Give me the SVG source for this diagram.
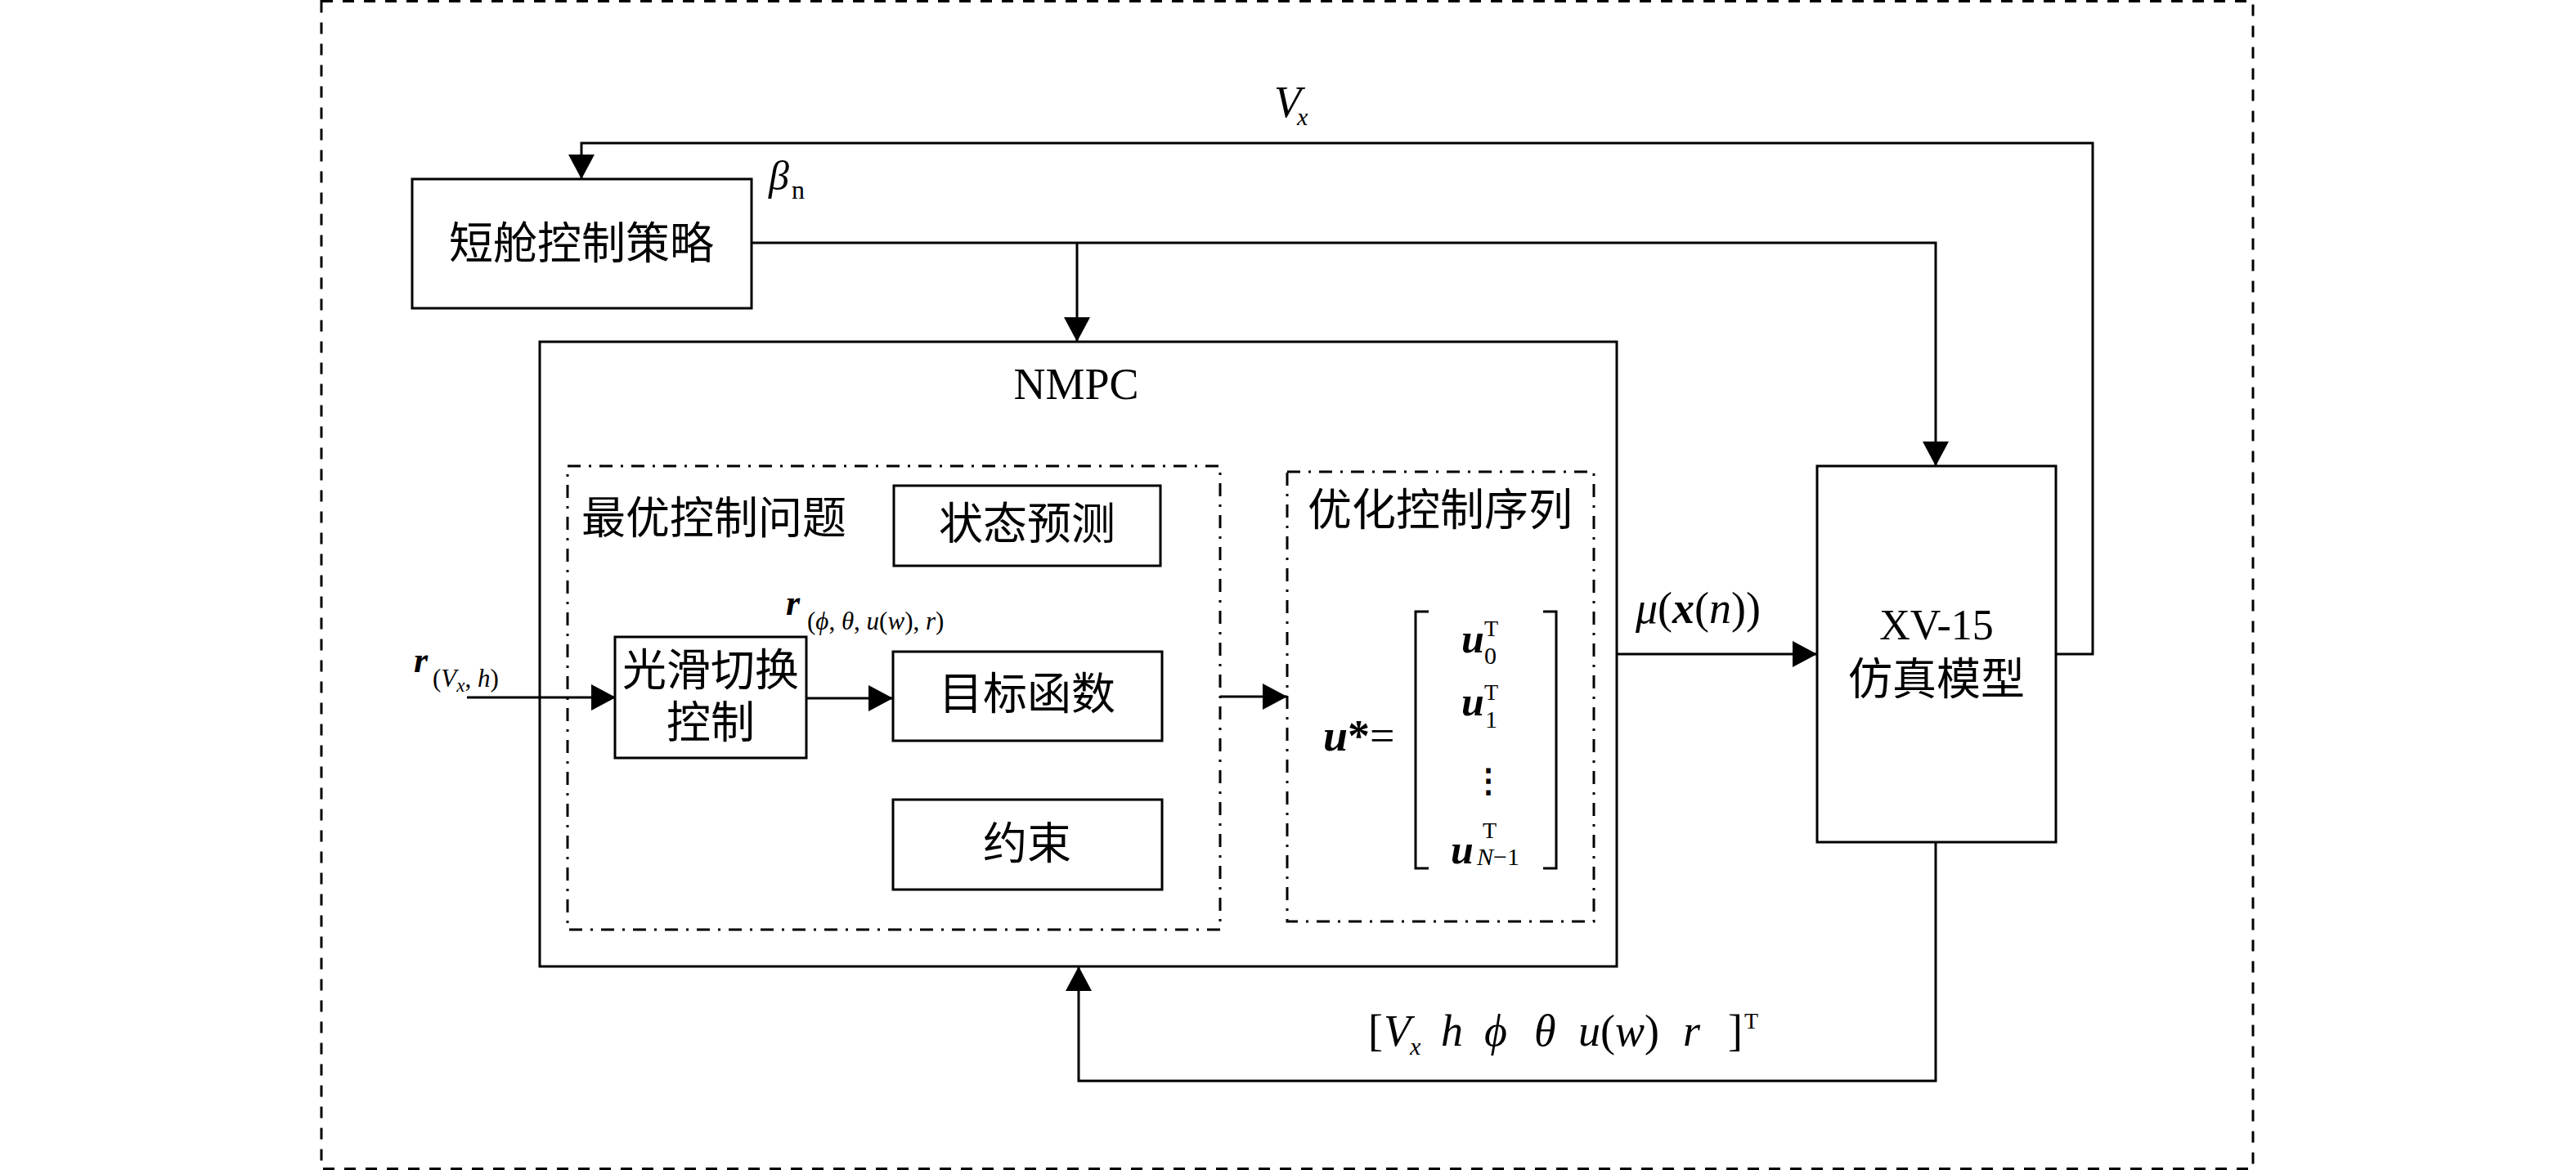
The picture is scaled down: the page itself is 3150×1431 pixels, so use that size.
<svg xmlns="http://www.w3.org/2000/svg" width="3150" height="1431" viewBox="0 0 3150 1431">
<defs>
<style>
.box{fill:none;stroke:#000;stroke-width:3}
.dd{fill:none;stroke:#000;stroke-width:3;stroke-dasharray:16 10 3 10}
.outer{fill:none;stroke:#000;stroke-width:3;stroke-dasharray:14 12}
.wire{fill:none;stroke:#000;stroke-width:3}
.cjk{font-family:"Liberation Serif","Noto Sans CJK SC",sans-serif;font-size:54px;fill:#000}
.m{font-family:"Liberation Serif","DejaVu Serif",serif;fill:#000}
.i{font-style:italic}
.bi{font-style:italic;font-weight:bold}
.mid{text-anchor:middle}
</style>
<marker id="ah" markerUnits="userSpaceOnUse" markerWidth="30" markerHeight="32" refX="30" refY="16" orient="auto"><path d="M0,0 L30,16 L0,32 Z" fill="#000"/></marker>
</defs>
<rect x="0" y="0" width="3150" height="1431" fill="#fff"/>

<g id="outer-frame"><rect class="outer" x="393" y="1.5" width="2362" height="1428"/></g>

<g id="nacelle">
<rect class="box" x="504" y="219" width="415" height="158"/>
<text class="cjk mid" x="711" y="317">短舱控制策略</text>
</g>

<g id="nmpc">
<rect class="box" x="660" y="418" width="1317" height="764"/>
<text class="m mid" x="1316" y="488" font-size="54">NMPC</text>
</g>

<g id="ocp">
<rect class="dd" x="694" y="570" width="798" height="567"/>
<text class="cjk" x="711" y="653">最优控制问题</text>
</g>

<g id="state-pred">
<rect class="box" x="1093" y="594" width="326" height="98"/>
<text class="cjk mid" x="1256" y="660">状态预测</text>
</g>

<g id="smooth-switch">
<rect class="box" x="752" y="779" width="234" height="148"/>
<text class="cjk mid" x="869" y="839">光滑切换</text>
<text class="cjk mid" x="869" y="903">控制</text>
</g>

<g id="objective">
<rect class="box" x="1092" y="797" width="329" height="109"/>
<text class="cjk mid" x="1256" y="868">目标函数</text>
</g>

<g id="constraint">
<rect class="box" x="1092" y="978" width="329" height="110"/>
<text class="cjk mid" x="1256" y="1051">约束</text>
</g>

<g id="opt-seq">
<rect class="dd" x="1574" y="577" width="375" height="550"/>
<text class="cjk mid" x="1761" y="643">优化控制序列</text>
<text class="m" y="918" font-size="54"><tspan class="bi" x="1618">u</tspan><tspan font-weight="bold">*</tspan><tspan>=</tspan></text>
<path class="box" d="M1747,748 H1731 V1062 H1747 M1887,748 H1903 V1062 H1887" stroke-width="4"/>
<text class="m bi" x="1787" y="798" font-size="50">u</text>
<text class="m" x="1815" y="778" font-size="28">T</text>
<text class="m" x="1815" y="812" font-size="30">0</text>
<text class="m bi" x="1787" y="875" font-size="50">u</text>
<text class="m" x="1815" y="856" font-size="28">T</text>
<text class="m" x="1816" y="890" font-size="30">1</text>
<text class="m mid" x="1820" y="968" font-size="40" font-weight="bold">⋮</text>
<text class="m bi" x="1774" y="1056" font-size="50">u</text>
<text class="m" x="1813" y="1025" font-size="28">T</text>
<text class="m" x="1806" y="1058" font-size="30"><tspan class="i">N</tspan>−1</text>
</g>

<g id="xv15">
<rect class="box" x="2222" y="570" width="292" height="460"/>
<text class="m mid" x="2368" y="782" font-size="52">XV-15</text>
<text class="cjk mid" x="2368" y="850">仿真模型</text>
</g>

<g id="connectors">
<path class="wire" d="M571,853 H753" marker-end="url(#ah)"/>
<path class="wire" d="M986,854 H1092" marker-end="url(#ah)"/>
<path class="wire" d="M1492,852 H1574" marker-end="url(#ah)"/>
<path class="wire" d="M1977,800 H2222" marker-end="url(#ah)"/>
<path class="wire" d="M2514,800 H2559 V175 H711 V219" marker-end="url(#ah)"/>
<path class="wire" d="M919,297 H2367 V570" marker-end="url(#ah)"/>
<path class="wire" d="M1317,297 V418" marker-end="url(#ah)"/>
<path class="wire" d="M2367,1030 V1322 H1319 V1182" marker-end="url(#ah)"/>
</g>

<g id="labels">
<text class="m" y="143" font-size="54"><tspan class="i" x="1558">V</tspan><tspan class="i" x="1586" y="153" font-size="30">x</tspan></text>
<text class="m" y="232" font-size="50"><tspan class="i" x="940">β</tspan><tspan x="968" y="243" font-size="32">n</tspan></text>
<text class="m" y="822" font-size="44"><tspan class="bi" x="506">r</tspan><tspan x="529" y="840" font-size="31">(</tspan><tspan class="i" font-size="31">V</tspan><tspan class="i" y="846" font-size="23">x</tspan><tspan y="840" font-size="31">, </tspan><tspan class="i" font-size="31">h</tspan><tspan font-size="31">)</tspan></text>
<text class="m" y="752" font-size="44"><tspan class="bi" x="961">r</tspan><tspan x="987" y="770" font-size="31">(</tspan><tspan class="i" font-size="31">ϕ</tspan><tspan font-size="31">, </tspan><tspan class="i" font-size="31">θ</tspan><tspan font-size="31">, </tspan><tspan class="i" font-size="31">u</tspan><tspan font-size="31">(</tspan><tspan class="i" font-size="31">w</tspan><tspan font-size="31">), </tspan><tspan class="i" font-size="31">r</tspan><tspan font-size="31">)</tspan></text>
<text class="m" x="2000" y="762" font-size="54"><tspan class="i">μ</tspan>(<tspan class="bi">x</tspan>(<tspan class="i">n</tspan>))</text>
<text class="m" y="1279" font-size="54"><tspan x="1673">[</tspan><tspan class="i" x="1692">V</tspan><tspan class="i" x="1724" y="1290" font-size="30">x</tspan><tspan class="i" x="1762" y="1279">h</tspan><tspan class="i" x="1815">ϕ</tspan><tspan class="i" x="1876">θ</tspan><tspan class="i" x="1930">u</tspan><tspan>(</tspan><tspan class="i">w</tspan><tspan>)</tspan><tspan class="i" x="2058">r</tspan><tspan x="2113">]</tspan><tspan x="2133" y="1258" font-size="28">T</tspan></text>
</g>
</svg>
